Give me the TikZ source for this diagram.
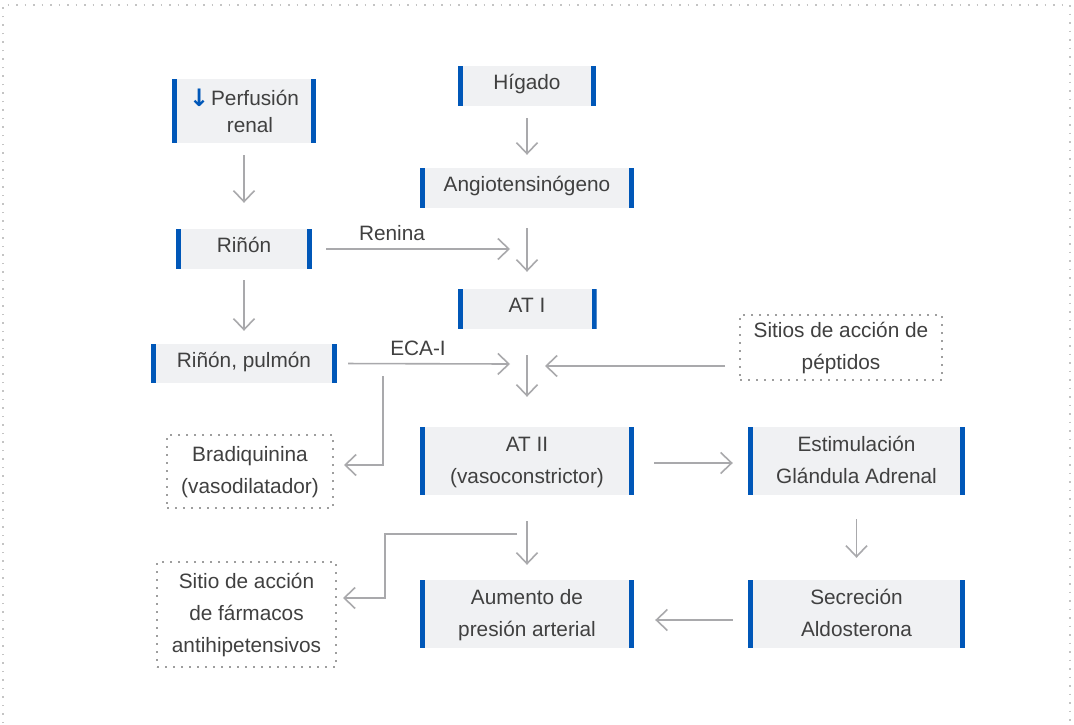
\documentclass[tikz,border=0pt]{standalone}
\usepackage{fontspec}
\setmainfont{Liberation Sans}
\newfontfamily\dejavu{DejaVu Sans}
\usetikzlibrary{arrows.meta}
\definecolor{txt}{HTML}{404040}
\definecolor{barblue}{HTML}{0057B8}
\definecolor{boxfill}{HTML}{F0F1F3}
\definecolor{arrgray}{HTML}{A9A9AC}
\definecolor{dotgray}{HTML}{9E9E9E}
\definecolor{framegray}{HTML}{C4C4C4}
\begin{document}
\begin{tikzpicture}[x=1pt,y=-1pt,
  font=\fontsize{20.8}{32}\selectfont, text=txt,
  bluebox/.style={fill=boxfill, inner sep=0pt, align=center,
    path picture={
      \fill[barblue] (path picture bounding box.north west) rectangle ([xshift=5pt]path picture bounding box.south west);
      \fill[barblue] ([xshift=-5pt]path picture bounding box.north east) rectangle (path picture bounding box.south east);}},
  one/.style={text height=13pt, text depth=6pt},
  dotbox/.style={draw=dotgray, line width=2pt, dash pattern=on 2pt off 6pt, inner sep=0pt, align=center},
  arr/.style={draw=arrgray, line width=1.6pt, -{Straight Barb[length=11pt,width=21pt]}},
  lbl/.style={inner sep=0pt, text height=13pt, text depth=6pt}
]
\useasboundingbox (0,0) rectangle (1074,725);
\fill[white] (0,0) rectangle (1074,725);
\draw[framegray, line width=1.5pt, dash pattern=on 1.5pt off 7pt] (3,740) -- (3,5) -- (1070,5) -- (1070,740);

% blue boxes
\node[bluebox, minimum width=144pt, minimum height=64pt, font=\fontsize{20.8}{27}\selectfont] (perf) at (244,111) {\raisebox{-1pt}{\color{barblue}\dejavu\bfseries\fontsize{24}{27}\selectfont ↓}\hspace{2pt}Perfusión\\\hspace{12pt}renal};
\node[bluebox, one, minimum width=138pt, minimum height=40pt] (hig) at (527,86) {Hígado};
\node[bluebox, one, minimum width=214pt, minimum height=40pt] (ang) at (527,188) {Angiotensinógeno};
\node[bluebox, one, minimum width=136pt, minimum height=40pt] (rin) at (244,249) {Riñón};
\node[bluebox, one, minimum width=139pt, minimum height=40pt] (at1) at (527,309) {AT I};
\node[bluebox, one, minimum width=186pt, minimum height=39pt] (rp) at (244,363.5) {Riñón, pulmón};
\node[bluebox, minimum width=214pt, minimum height=68pt] (at2) at (527,461) {\strut AT II\\\strut(vasoconstrictor)};
\node[bluebox, minimum width=217pt, minimum height=68pt] (est) at (856.5,461) {\strut Estimulación\\\strut Glándula Adrenal};
\node[bluebox, minimum width=214pt, minimum height=68pt] (aum) at (527,614) {\strut Aumento de\\\strut presión arterial};
\node[bluebox, minimum width=217pt, minimum height=68pt] (sec) at (856.5,614) {\strut Secreción\\\strut Aldosterona};

% dotted boxes
\node[dotbox, minimum width=202pt, minimum height=65pt] (sit) at (841,347.5) {\strut Sitios de acción de\\\strut péptidos};
\node[dotbox, minimum width=166pt, minimum height=73pt] (brad) at (250,471.5) {\strut Bradiquinina\\\strut(vasodilatador)};
\node[dotbox, minimum width=179pt, minimum height=105pt] (sfa) at (246.5,614.5) {\strut Sitio de acción\\\strut de fármacos\\\strut antihipetensivos};

% labels
\node[lbl] (lren) at (392,237) {Renina};
\node[lbl] (leca) at (418,352) {ECA-I};

% free ends
\coordinate (renEnd) at (510,249);
\coordinate (ecaEnd) at (510,364);
\coordinate (brStart) at (383,376);
\coordinate (sitEnd) at (545,366);
\coordinate (elbStart) at (517,534);
\coordinate (elbA) at (385,534);

% connectors
\draw[arr, shorten <=12pt, shorten >=26pt] (perf) -- (rin);
\draw[arr, shorten <=11pt, shorten >=13pt] (rin) -- (rp);
\draw[arr, shorten <=12pt, shorten >=13pt] (hig) -- (ang);
\draw[arr, shorten <=20pt, shorten >=17pt] (ang) -- (at1);
\draw[arr, shorten <=26pt, shorten >=30pt] (at1) -- (at2);
\draw[arr, shorten <=26pt, shorten >=15pt] (at2) -- (aum);
\draw[arr, shorten <=24pt, shorten >=22pt] (est) -- (sec);
\draw[arr, shorten <=20pt, shorten >=15pt] ([yshift=-2pt]at2.east) -- ([yshift=-2pt]est.west);
\draw[arr, shorten <=15pt, shorten >=21pt] ([yshift=-6pt]sec.west) -- ([yshift=-6pt]aum.east);
\draw[arr, shorten <=14pt] (rin.east) -- (renEnd);
\draw[arr, shorten <=11pt] (rp.east) -- (ecaEnd);
\draw[arr, shorten >=10pt] (brStart) |- ([yshift=6.5pt]brad.east);
\draw[arr, shorten <=14pt] ([yshift=-18.5pt]sit.west) -- (sitEnd);
\draw[arr, shorten >=6pt] (elbStart) -- (elbA) |- ([yshift=16.5pt]sfa.east);
\end{tikzpicture}
\end{document}
